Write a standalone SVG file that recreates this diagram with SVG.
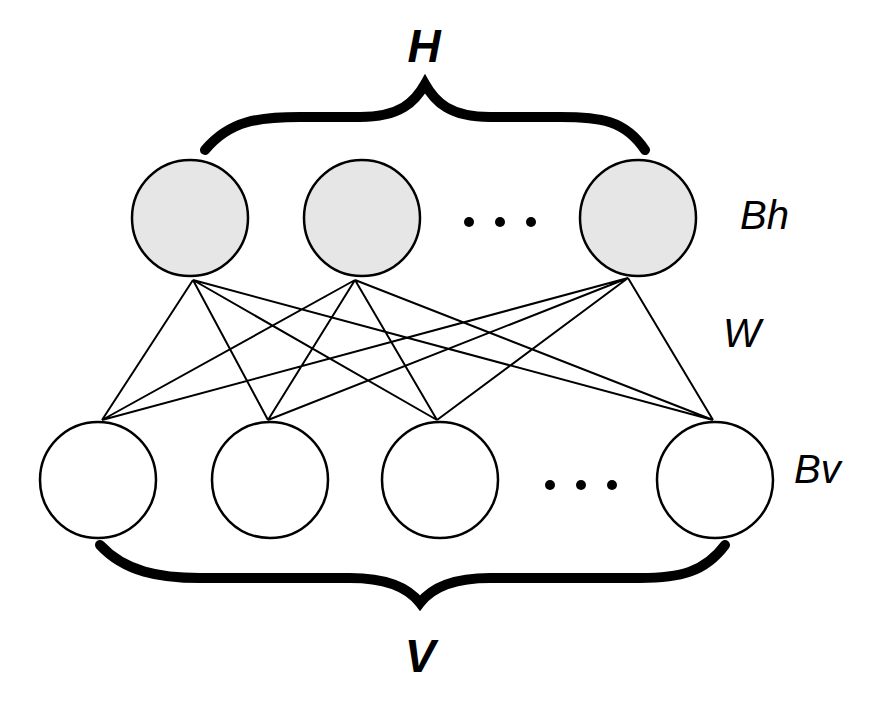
<svg xmlns="http://www.w3.org/2000/svg" width="892" height="702" viewBox="0 0 892 702">
<style>
.n{stroke:#000;stroke-width:2.5}
.h{fill:#e6e6e6}
.v{fill:#fff}
.e{stroke:#000;stroke-width:2;fill:none}
.b{stroke:#000;stroke-width:10;fill:none;stroke-linecap:round}
.t{font-family:"Liberation Sans",Arial,sans-serif;font-style:italic;fill:#000}
.d{fill:#000}
</style>
<rect width="892" height="702" fill="#fff"/>
<g id="connectors">
<path class="e" d="M193 280L102 420M193 280L268 420M193 280L437 420M193 280L713 420M355 280L102 420M355 280L268 420M355 280L437 420M355 280L713 420M628 278L102 420M628 278L268 420M628 278L437 420M628 278L713 420"/>
</g>
<g id="h1"><circle class="n h" cx="190" cy="218" r="58"/></g>
<g id="h2"><circle class="n h" cx="362" cy="218" r="58"/></g>
<g id="h3"><circle class="n h" cx="638" cy="218" r="58"/></g>
<g id="hdots"><circle class="d" cx="469" cy="222" r="5"/><circle class="d" cx="500" cy="222" r="5"/><circle class="d" cx="531" cy="222" r="5"/></g>
<g id="v1"><circle class="n v" cx="98" cy="480" r="58"/></g>
<g id="v2"><circle class="n v" cx="270" cy="480" r="58"/></g>
<g id="v3"><circle class="n v" cx="440" cy="480" r="58"/></g>
<g id="v4"><circle class="n v" cx="715" cy="480" r="58"/></g>
<g id="vdots"><circle class="d" cx="550" cy="485" r="5"/><circle class="d" cx="581" cy="485" r="5"/><circle class="d" cx="612" cy="485" r="5"/></g>
<g id="braceH">
<path class="b" d="M205 150C230 120 260 117 300 117L360 117C400 117 415 102 425 84C435 102 450 117 490 117L560 117C600 117 625 120 645 150"/>
<text class="t" x="424" y="62" font-size="46" font-weight="bold" text-anchor="middle">H</text>
</g>
<g id="braceV">
<path class="b" d="M100 545C125 572 160 578 200 578L350 578C390 578 410 590 420 603C430 590 450 578 490 578L640 578C680 578 705 572 725 545"/>
<text class="t" x="420" y="672" font-size="46" font-weight="bold" text-anchor="middle">V</text>
</g>
<g id="labels">
<text class="t" x="740" y="229" font-size="40">Bh</text>
<text class="t" x="723" y="347" font-size="40">W</text>
<text class="t" x="794" y="483" font-size="40">Bv</text>
</g>
</svg>
